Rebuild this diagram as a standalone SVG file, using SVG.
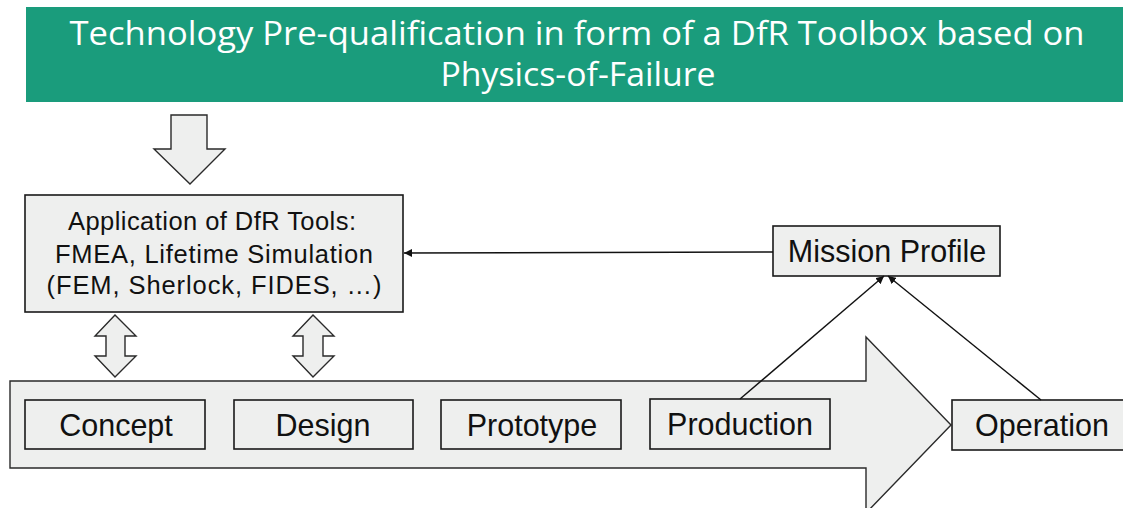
<svg xmlns="http://www.w3.org/2000/svg" width="1123" height="508" viewBox="0 0 1123 508">
<defs>
<style>
.box{fill:#eeefee;stroke:#1a1a1a;stroke-width:1.6}
.shape{fill:#eeefee;stroke:#2a2a2a;stroke-width:1.4;stroke-linejoin:miter}
.lbl{font-family:"Liberation Sans",Arial,sans-serif;font-size:30.5px;fill:#111;text-anchor:middle}
.app{font-family:"Liberation Sans",Arial,sans-serif;font-size:25.5px;fill:#111;text-anchor:middle}
.hdr{font-family:"Open Sans","Noto Sans",sans-serif;font-size:32px;fill:#fff;text-anchor:middle}
.conn{fill:none;stroke:#111;stroke-width:1.4}
</style>
<marker id="ah" viewBox="0 0 10 10" refX="10" refY="5" markerWidth="8" markerHeight="8" markerUnits="userSpaceOnUse" orient="auto">
<path d="M0,0 L10,5 L0,10 z" fill="#111"/>
</marker>
</defs>

<g id="header">
<rect x="26" y="7" width="1100" height="95" fill="#1a9c7c"/>
<text class="hdr" x="577" y="45" textLength="1015" lengthAdjust="spacingAndGlyphs">Technology Pre-qualification in form of a DfR Toolbox based on</text>
<text class="hdr" x="578" y="86" textLength="275" lengthAdjust="spacingAndGlyphs">Physics-of-Failure</text>
</g>

<g id="down-arrow">
<path class="shape" d="M171,115 L207,115 L207,149 L225,149 L190,184 L154,149 L171,149 Z"/>
</g>

<g id="process-arrow">
<path class="shape" d="M10,381 L866,381 L866,337 L951,425 L866,513 L866,468 L10,468 Z"/>
</g>

<g id="dfr-tools">
<rect class="box" x="25" y="195" width="378" height="117"/>
<text class="app" x="212" y="230" textLength="288" lengthAdjust="spacing">Application of DfR Tools:</text>
<text class="app" x="214" y="263" textLength="318" lengthAdjust="spacing">FMEA, Lifetime Simulation</text>
<text class="app" x="214" y="294" textLength="335" lengthAdjust="spacing">(FEM, Sherlock, FIDES, …)</text>
</g>

<g id="double-arrow-1">
<path class="shape" d="M115,315 L136,336 L125,336 L125,356 L136,356 L115,377 L95,356 L106,356 L106,336 L95,336 Z"/>
</g>
<g id="double-arrow-2">
<path class="shape" d="M313,315 L334,336 L323,336 L323,356 L334,356 L313,377 L293,356 L303,356 L303,336 L293,336 Z"/>
</g>

<g id="mission-profile">
<rect class="box" x="773" y="226" width="227" height="50"/>
<text class="lbl" x="887" y="262">Mission Profile</text>
</g>

<g id="concept">
<rect class="box" x="25" y="400" width="180" height="49"/>
<text class="lbl" x="116" y="436">Concept</text>
</g>
<g id="design">
<rect class="box" x="234" y="400" width="179" height="49"/>
<text class="lbl" x="323" y="436">Design</text>
</g>
<g id="prototype">
<rect class="box" x="441" y="400" width="180" height="49"/>
<text class="lbl" x="532" y="436">Prototype</text>
</g>
<g id="production">
<rect class="box" x="650" y="399" width="180" height="50"/>
<text class="lbl" x="740" y="435">Production</text>
</g>
<g id="operation">
<rect class="box" x="952" y="400" width="180" height="50"/>
<text class="lbl" x="1042" y="436">Operation</text>
</g>

<g id="connectors">
<path class="conn" d="M773,252 L404,253" marker-end="url(#ah)"/>
<path class="conn" d="M740,399 L884,276" marker-end="url(#ah)"/>
<path class="conn" d="M1041,400 L888,276" marker-end="url(#ah)"/>
</g>
</svg>
